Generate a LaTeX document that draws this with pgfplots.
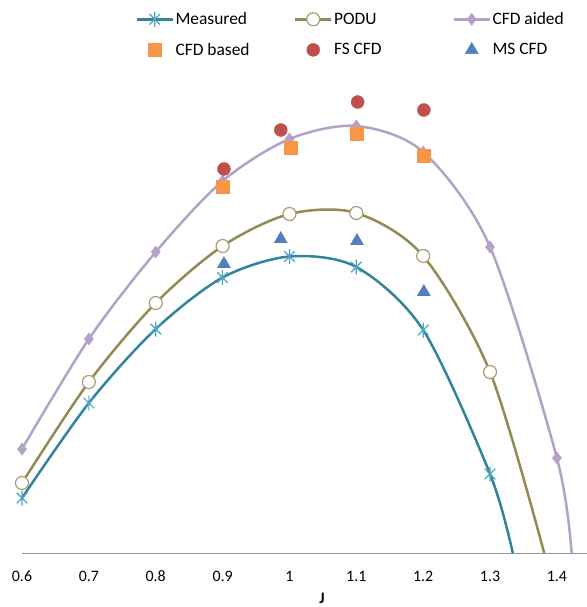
\documentclass[border=0pt]{standalone}
\usepackage{fontspec}
\setmainfont{Carlito}
\usepackage{pgfplots}
\pgfplotsset{compat=1.18}
\definecolor{meas}{RGB}{49,132,155}
\definecolor{measm}{RGB}{75,165,190}
\definecolor{podu}{RGB}{148,138,84}
\definecolor{podum}{RGB}{165,158,118}
\definecolor{aided}{RGB}{179,162,199}
\definecolor{based}{RGB}{247,150,70}
\definecolor{fs}{RGB}{192,80,77}
\definecolor{ms}{RGB}{79,129,189}
\definecolor{axgray}{RGB}{150,150,150}
\pgfdeclareplotmark{xstar}{%
  \pgfpathmoveto{\pgfqpoint{0pt}{\pgfplotmarksize}}%
  \pgfpathlineto{\pgfqpoint{0pt}{-\pgfplotmarksize}}%
  \pgfpathmoveto{\pgfqpoint{0.7071\pgfplotmarksize}{0.7071\pgfplotmarksize}}%
  \pgfpathlineto{\pgfqpoint{-0.7071\pgfplotmarksize}{-0.7071\pgfplotmarksize}}%
  \pgfpathmoveto{\pgfqpoint{-0.7071\pgfplotmarksize}{0.7071\pgfplotmarksize}}%
  \pgfpathlineto{\pgfqpoint{0.7071\pgfplotmarksize}{-0.7071\pgfplotmarksize}}%
  \pgfusepathqstroke}
\pgfplotsset{
  lineleg/.style={legend image code/.code={%
    \draw[##1] (0bp,0bp) -- (36bp,0bp);
    \draw[##1,only marks] plot coordinates {(18bp,0bp)};}},
  markleg/.style={legend image code/.code={%
    \path[draw=none,fill=none] (0bp,0bp) -- (36bp,0bp);
    \draw[##1,only marks] plot coordinates {(18bp,0bp)};}},
}
\newcommand{\legtxt}[1]{\makebox[117bp][l]{#1}}
\begin{document}
\begin{tikzpicture}
\begin{axis}[
  scale only axis, width=565bp, height=480bp,
  xmin=0.6, xmax=1.445, ymin=0, ymax=480,
  axis y line=none, axis x line*=bottom,
  x axis line style={axgray, line width=1bp},
  xtick={0.6,0.7,0.8,0.9,1,1.1,1.2,1.3,1.4},
  xticklabels={0.6,0.7,0.8,0.9,1,1.1,1.2,1.3,1.4},
  major tick length=0pt,
  xticklabel style={anchor=center, yshift=-23bp, font=\fontsize{16}{19}\selectfont, text=black},
  xlabel={\textbf{J}},
  xlabel style={at={(axis description cs:0.531,0)}, anchor=north, inner sep=0pt, yshift=-40bp, font=\fontsize{16}{19}\selectfont},
  clip=false,
  legend columns=3,
  legend style={draw=none, fill=none, inner sep=0pt, outer sep=0pt,
    at={(0.2009,1.1292)}, anchor=north west,
    nodes={inner sep=1.5bp, font=\fontsize{17.5}{20}\selectfont},
    column sep=0pt, row sep=14bp},
]
\addplot[meas, line width=2.5bp, smooth, mark=xstar, mark size=7.5bp, mark indices={1,2,3,4,5,6,7,8},
  mark options={measm, line width=1.2bp}, lineleg] coordinates {
  (0.6,55) (0.7,150) (0.8,224) (0.9,275.5) (1.0,296.5) (1.1,286) (1.2,223) (1.3,79) (1.334,0)};
\addlegendentry{\legtxt{Measured}}
\addplot[podu, line width=2.5bp, smooth, mark=*, mark size=6.5bp, mark indices={1,2,3,4,5,6,7,8},
  mark options={draw=podum, fill=white, line width=1.2bp}, lineleg] coordinates {
  (0.6,70) (0.7,171) (0.8,250) (0.9,307) (1.0,339) (1.1,340) (1.2,297) (1.3,181) (1.381,0)};
\addlegendentry{\legtxt{PODU}}
\addplot[aided, line width=2.5bp, smooth, mark=diamond*, mark size=6bp, mark indices={1,2,3,4,5,6,7,8,9},
  mark options={aided, line width=0.5bp}, lineleg] coordinates {
  (0.6,104) (0.7,214) (0.8,301) (0.9,372) (1.0,414) (1.1,427) (1.2,401) (1.3,306) (1.4,95) (1.422,0)};
\addlegendentry{\legtxt{CFD aided}}
\addplot[only marks, mark=square*, mark size=6.5bp, based, markleg] coordinates {
  (0.9,366) (1.002,405) (1.101,419) (1.201,397)};
\addlegendentry{\legtxt{CFD based}}
\addplot[only marks, mark=*, mark size=6.5bp, fs, markleg] coordinates {
  (0.902,384) (0.987,423) (1.102,451) (1.201,443)};
\addlegendentry{\legtxt{FS CFD}}
\addplot[only marks, mark=triangle*, mark size=7.5bp, ms, markleg] coordinates {
  (0.902,289) (0.987,314) (1.101,312) (1.201,261)};
\addlegendentry{\legtxt{MS CFD}}
\coordinate (o) at (axis cs:0.6,0);
\coordinate (ne) at (axis cs:1.445,0);
\end{axis}
\pgfresetboundingbox
\path[use as bounding box] ([xshift=-22bp,yshift=-54bp]o) rectangle ([yshift=553bp]ne);
\end{tikzpicture}
\end{document}
